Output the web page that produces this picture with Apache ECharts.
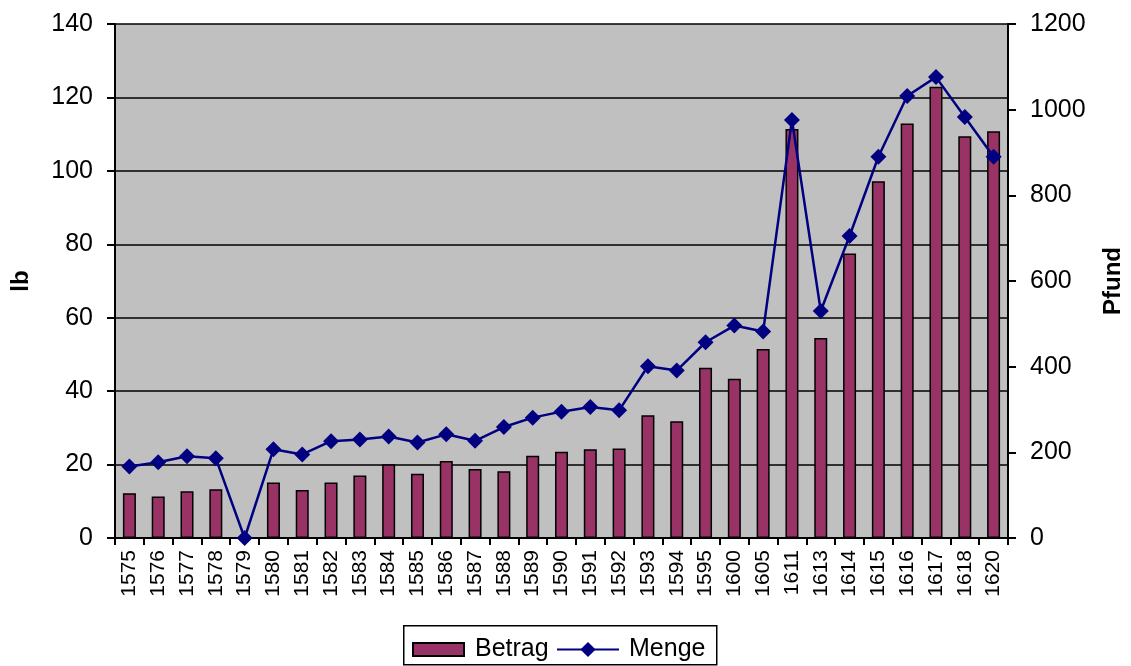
<!DOCTYPE html>
<html>
<head>
<meta charset="utf-8">
<script src="https://cdn.jsdelivr.net/npm/echarts@6/dist/echarts.min.js"></script>
<style>html,body{margin:0;padding:0;background:#fff}#c{width:1131px;height:666px}</style>
</head>
<body>
<div id="c"></div>
<script>
const years = ['1575','1576','1577','1578','1579','1580','1581','1582','1583','1584','1585','1586','1587','1588','1589','1590','1591','1592','1593','1594','1595','1600','1605','1611','1613','1614','1615','1616','1617','1618','1620'];
const betrag = [12.2,11.3,12.7,13.3,0,15.1,13.1,15.1,17.0,20.1,17.5,21.0,18.8,18.2,22.4,23.5,24.2,24.4,33.4,31.8,46.4,43.4,51.5,111.4,54.5,77.5,97.2,112.9,122.9,109.4,110.8];
const menge = [167,177,191,186,0,207,195,226,230,237,223,242,227,259,281,295,306,298,401,391,457,496,482,976,530,705,890,1032,1076,983,890];
const leftTicks = {min:0,max:140,interval:20};
const rightTicks = {min:0,max:1200,interval:200};

const font = '"Liberation Sans", Arial, sans-serif';
const chart = echarts.init(document.getElementById('c'));
chart.setOption({
  animation:false,
  textStyle:{fontFamily:font},
  grid:{left:115,right:123,top:24,bottom:128,show:true,backgroundColor:'#C0C0C0',borderWidth:0,outerBoundsMode:'none',containLabel:false},
  graphic:[{
    type:'rect',left:403,top:625,silent:true,
    shape:{width:313,height:39},
    style:{fill:'#fff',stroke:'#000',lineWidth:1.5},z:-1
  }],
  legend:[{
    left:412,top:637,padding:0,
    icon:'rect',
    itemWidth:51,itemHeight:13,
    itemStyle:{borderColor:'#000',borderWidth:2},
    textStyle:{fontSize:25,color:'#000',fontFamily:font,padding:[0,0,0,6]},
    data:['Betrag']
  },{
    left:556,top:637,padding:0,
    itemWidth:62,itemHeight:19,
    textStyle:{fontSize:25,color:'#000',fontFamily:font,padding:[0,0,0,5]},
    data:['Menge']
  }],
  xAxis:{
    type:'category',data:years,
    axisLine:{lineStyle:{color:'#000',width:2}},
    axisTick:{show:true,length:7,lineStyle:{color:'#000',width:2}},
    axisLabel:{interval:0,rotate:90,fontSize:21,color:'#000',margin:12,fontFamily:font}
  },
  yAxis:[{
    type:'value',min:leftTicks.min,max:leftTicks.max,interval:leftTicks.interval,
    name:'lb',nameLocation:'middle',nameGap:82,nameRotate:90,
    nameTextStyle:{fontSize:24,fontWeight:'bold',color:'#000',fontFamily:font},
    axisLine:{show:true,lineStyle:{color:'#000',width:2}},
    axisTick:{show:true,length:8,lineStyle:{color:'#000',width:2}},
    axisLabel:{fontSize:25,color:'#000',margin:22,fontFamily:font},
    splitLine:{show:true,lineStyle:{color:'#000',width:1.5}}
  },{
    type:'value',min:rightTicks.min,max:rightTicks.max,interval:rightTicks.interval,position:'right',
    name:'Pfund',nameLocation:'middle',nameGap:93,nameRotate:90,
    nameTextStyle:{fontSize:24,fontWeight:'bold',color:'#000',fontFamily:font},
    axisLine:{show:true,lineStyle:{color:'#000',width:2}},
    axisTick:{show:true,length:8,lineStyle:{color:'#000',width:2}},
    axisLabel:{fontSize:25,color:'#000',margin:22,fontFamily:font,formatter:v=>String(v)},
    splitLine:{show:false}
  }],
  series:[{
    name:'Betrag',type:'bar',data:betrag,yAxisIndex:0,barWidth:13,
    itemStyle:{color:'#993366',borderColor:'#000',borderWidth:1.5}
  },{
    name:'Menge',type:'line',data:menge,yAxisIndex:1,
    symbol:'diamond',symbolSize:16,
    lineStyle:{color:'#000080',width:2.5},
    itemStyle:{color:'#000080'}
  }]
});
</script>
</body>
</html>
